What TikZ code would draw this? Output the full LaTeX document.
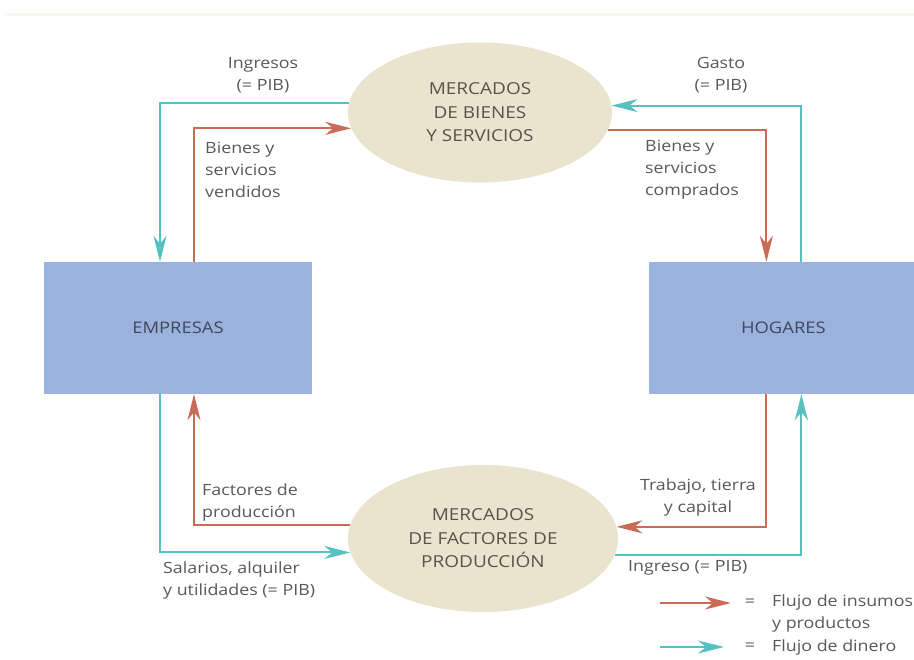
\documentclass[tikz,border=0pt]{standalone}
\usepackage{fontspec}
\setsansfont{Open Sans}[FakeStretch=1.15]
\usetikzlibrary{arrows.meta,positioning,shapes.geometric}
\definecolor{agentblue}{RGB}{155,179,220}
\definecolor{marketbeige}{RGB}{234,227,205}
\definecolor{flowred}{RGB}{201,107,86}
\definecolor{moneycyan}{RGB}{86,193,192}
\definecolor{labelgray}{RGB}{88,88,88}
\definecolor{agenttext}{RGB}{62,72,92}
\definecolor{markettext}{RGB}{88,84,74}
\definecolor{edgecream}{RGB}{250,248,238}

\begin{document}
\begin{tikzpicture}[
  x=1pt, y=-1pt,
  font=\sffamily,
  >={Stealth[length=26pt,width=13pt,inset=8pt]},
  agent/.style={rectangle, fill=agentblue, minimum width=268pt, minimum height=132pt, inner sep=0pt, text=agenttext, font=\sffamily\fontsize{16}{20}\selectfont},
  market/.style={ellipse, fill=marketbeige, inner sep=0pt, align=center, text=markettext, font=\sffamily\fontsize{16.5}{23.5}\selectfont},
  lbl/.style={inner sep=0pt, text=labelgray, font=\sffamily\fontsize{15.5}{22}\selectfont},
  flujo/.style={->, line width=2pt, draw=flowred},
  dinero/.style={->, line width=2pt, draw=moneycyan}
]
\useasboundingbox (0,0) rectangle (914,660);
\draw[edgecream, line width=3pt] (5,15) -- (914,15);

% agentes y mercados
\node[agent] (empresas) at (178,328) {EMPRESAS};
\node[agent, right=337pt of empresas] (hogares) {HOGARES};
\node[market, minimum width=264pt, minimum height=140pt] (mbienes) at (480,112.5) {MERCADOS\\DE BIENES\\Y SERVICIOS};
\node[market, minimum width=270pt, minimum height=147pt] (mfactores) at (483,538.5) {MERCADOS\\DE FACTORES DE\\PRODUCCIÓN};

% flujos de dinero
\draw[dinero] (mbienes.176.3) -| ([xshift=-18pt]empresas.north);
\draw[dinero] ([xshift=18pt]hogares.north) |- (mbienes.3.7);
\draw[dinero] ([xshift=-18pt]empresas.south) |- (mfactores.186.25);
\draw[dinero] (mfactores.353.75) -| ([xshift=18pt]hogares.south);

% flujos de insumos y productos
\draw[flujo] ([xshift=16pt]empresas.north) |- (mbienes.187.8);
\draw[flujo] (mbienes.352.2) -| ([xshift=-17pt]hogares.north);
\draw[flujo] ([xshift=-17pt]hogares.south) |- (mfactores.5.4);
\draw[flujo] (mfactores.174.6) -| ([xshift=16pt]empresas.south);

% etiquetas
\node[lbl, align=center] (ingresos) at (263,75) {Ingresos\\(= PIB)};
\node[lbl, align=center] (gasto) at (721,75) {Gasto\\(= PIB)};
\node[lbl, align=left, anchor=west] (vendidos) at (205,170) {Bienes y\\servicios\\vendidos};
\node[lbl, align=left, anchor=west] (comprados) at (645,170) {Bienes y\\servicios\\comprados};
\node[lbl, align=left, anchor=west] (factores) at (202,502) {Factores de\\producción};
\node[lbl, align=center] (trabajo) at (698,497) {Trabajo, tierra\\y capital};
\node[lbl, align=left, anchor=west] (salarios) at (163,580) {Salarios, alquiler\\y utilidades (= PIB)};
\node[lbl, anchor=west] (ingreso) at (628,568) {Ingreso (= PIB)};

% leyenda
\coordinate (ley1a) at (660,603);
\coordinate (ley1b) at (731,603);
\coordinate (ley2a) at (660,647);
\coordinate (ley2b) at (724,647);
\draw[flujo] (ley1a) -- (ley1b);
\draw[dinero] (ley2a) -- (ley2b);
\node[lbl] (igual1) at (750,603) {=};
\node[lbl] (igual2) at (750,647) {=};
\node[lbl, align=left, anchor=west] (leyinsumos) at (772,613) {Flujo de insumos\\y productos};
\node[lbl, anchor=west] (leydinero) at (772,647) {Flujo de dinero};
\end{tikzpicture}
\end{document}
